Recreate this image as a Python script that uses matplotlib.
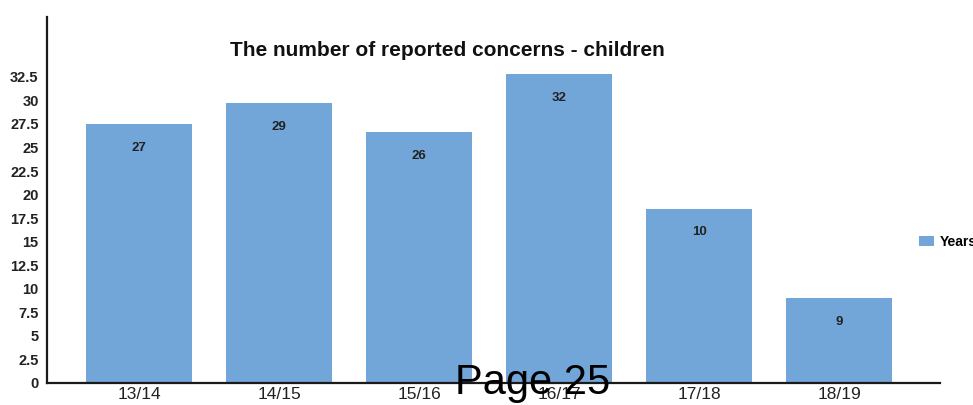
import matplotlib
matplotlib.use("Agg")
import matplotlib.pyplot as plt
import numpy as np

plt.rcParams["font.family"] = ["Liberation Sans", "DejaVu Sans"]

years = ["13/14", "14/15", "15/16", "16/17", "17/18", "18/19"]
bar_heights = [27.5, 29.7, 26.6, 32.8, 18.5, 9.0]
bar_labels = ["27", "29", "26", "32", "10", "9"]
y_ticks = [0, 2.5, 5, 7.5, 10, 12.5, 15, 17.5, 20, 22.5, 25, 27.5, 30, 32.5]

bar_color = "#72a5d8"

fig = plt.figure(figsize=(9.73, 4.05), dpi=100)
ax = fig.add_axes([47 / 973, 22 / 405, 893 / 973, 366 / 405])

x = np.arange(len(years))
bars = ax.bar(x, bar_heights, width=0.76, color=bar_color, label="Years", zorder=2)

# value labels sit a little below the top of each bar
for bar, lab in zip(bars, bar_labels):
    ax.annotate(lab, (bar.get_x() + bar.get_width() / 2, bar.get_height()),
                xytext=(0, -17), textcoords="offset points",
                ha="center", va="center", fontsize=9.5, fontweight="bold",
                color="#222222")

ax.set_xlim(-0.657, 5.72)
ax.set_ylim(0, 38.85)
ax.set_xticks(x)
ax.set_xticklabels(years, fontsize=12.5, color="#222222")
ax.set_yticks(y_ticks)
ax.set_yticklabels([f"{t:g}" for t in y_ticks], fontsize=10.5, fontweight="bold",
                   color="#222222")
ax.tick_params(axis="both", length=0)
ax.tick_params(axis="y", pad=6)
ax.tick_params(axis="x", pad=3)

for side in ["top", "right"]:
    ax.spines[side].set_visible(False)
for side in ["left", "bottom"]:
    ax.spines[side].set_color("#1a1a1a")
    ax.spines[side].set_linewidth(1.6)

fig.text(447 / 973, 1 - 50 / 405, "The number of reported concerns - children",
         ha="center", va="center", fontsize=15, fontweight="bold", color="#111111")

fig.legend(handles=[bars], labels=["Years"], loc="center left",
           bbox_to_anchor=(906 / 973, 1 - 242 / 405), frameon=False,
           handlelength=1.1, handleheight=0.8, handletextpad=0.4,
           prop={"size": 10, "weight": "bold"})

fig.text(533 / 973, 1 - 383 / 405, "Page 25", ha="center", va="center",
         fontsize=30, color="black")

fig.savefig("out.png", dpi=100)
